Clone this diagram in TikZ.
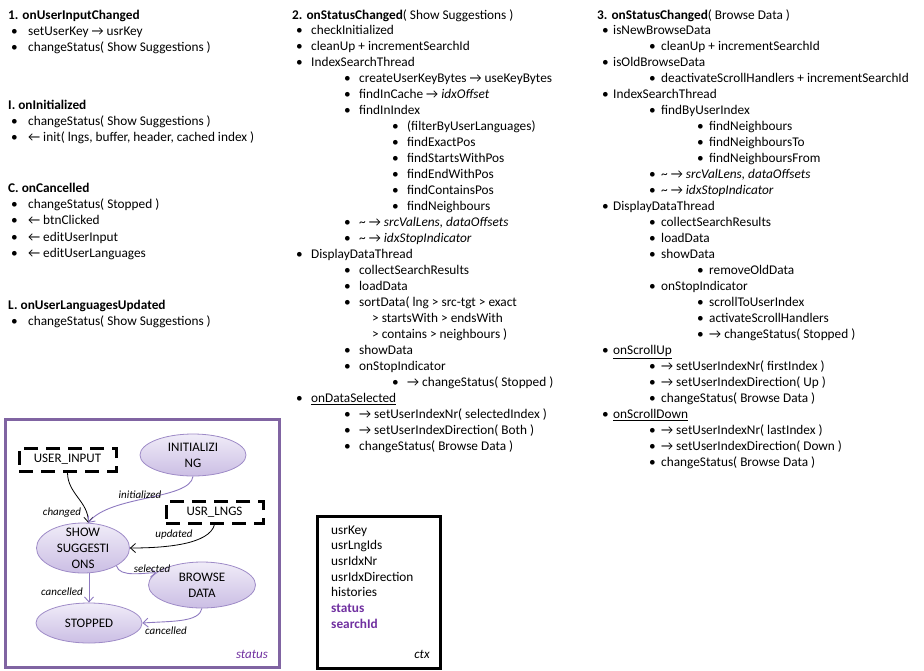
\documentclass[tikz,border=0pt]{standalone}
\usepackage{fontspec}
\setmainfont{Carlito}
\usetikzlibrary{shapes.geometric,arrows.meta}
\definecolor{stb}{HTML}{9E8BC7}
\definecolor{stt}{HTML}{F0ECF8}
\definecolor{stbot}{HTML}{CBBEE4}
\definecolor{parc}{HTML}{8E7AC0}
\definecolor{boxc}{HTML}{8064A2}
\definecolor{purp}{HTML}{7030A0}
\newcommand\B[5]{\node[txt] (#1b) at (#2,#4+4.5) {•};\node[txt] (#1) at (#3,#4+4.5) {#5};}
\newcommand\Hd[4]{\node[txt] (#1) at (#2,#3+4.5) {#4};}
\begin{document}
\begin{tikzpicture}[x=1pt,y=-1pt,
  txt/.style={anchor=base west,inner sep=0pt,font=\fontsize{13.3}{16}\selectfont},
  st/.style={ellipse,draw=stb,line width=0.8pt,top color=stt,bottom color=stbot,inner sep=0pt},
  sttxt/.style={align=center,inner sep=0pt,font=\fontsize{13}{16}\selectfont},
  dbox/.style={draw,line width=3pt,dash pattern=on 14pt off 8pt,inner sep=0pt,font=\fontsize{13}{16}\selectfont},
  elab/.style={inner sep=0pt,font=\fontsize{11}{13}\selectfont\itshape},
  karr/.style={-{Straight Barb[length=5pt,width=9pt]},line width=0.8pt,black},
  parr/.style={-{Straight Barb[length=5pt,width=9pt]},line width=0.9pt,parc}]
\useasboundingbox (0,0) rectangle (924,670);
% column 1
\Hd{h1}{8}{15}{\textbf{1. onUserInputChanged}}
\B{a1}{11}{28}{31}{setUserKey → usrKey}
\B{a2}{11}{28}{47}{changeStatus( Show Suggestions )}
\Hd{h2}{8}{105}{\textbf{I. onInitialized}}
\B{a3}{11}{28}{121}{changeStatus( Show Suggestions )}
\B{a4}{11}{28}{137}{← init( lngs, buffer, header, cached index )}
\Hd{h3}{8}{188}{\textbf{C. onCancelled}}
\B{a5}{11}{28}{204}{changeStatus( Stopped )}
\B{a6}{11}{28}{220}{← btnClicked}
\B{a7}{11}{28}{237}{← editUserInput}
\B{a8}{11}{28}{253}{← editUserLanguages}
\Hd{h4}{8}{305}{\textbf{L. onUserLanguagesUpdated}}
\B{a9}{11}{28}{321}{changeStatus( Show Suggestions )}
% column 2
\Hd{h5}{292}{15}{\textbf{2. onStatusChanged}( Show Suggestions )}
\B{b1}{296}{311}{30}{checkInitialized}
\B{b2}{296}{311}{46}{cleanUp + incrementSearchId}
\B{b3}{296}{311}{62}{IndexSearchThread}
\B{b4}{344}{359}{78}{createUserKeyBytes → useKeyBytes}
\B{b5}{344}{359}{94}{findInCache → \textit{idxOffset}}
\B{b6}{344}{359}{110}{findInIndex}
\B{b7}{392}{407}{126}{(filterByUserLanguages)}
\B{b8}{392}{407}{142}{findExactPos}
\B{b9}{392}{407}{158}{findStartsWithPos}
\B{b10}{392}{407}{174}{findEndWithPos}
\B{b11}{392}{407}{190}{findContainsPos}
\B{b12}{392}{407}{206}{findNeighbours}
\B{b13}{344}{359}{222}{\textasciitilde\ → \textit{srcValLens, dataOffsets}}
\B{b14}{344}{359}{238}{\textasciitilde\ → \textit{idxStopIndicator}}
\B{b15}{296}{311}{254}{DisplayDataThread}
\B{b16}{344}{359}{270}{collectSearchResults}
\B{b17}{344}{359}{286}{loadData}
\B{b18}{344}{359}{302}{sortData( lng > src-tgt > exact}
\Hd{b19}{372}{318}{> startsWith > endsWith}
\Hd{b20}{372}{334}{> contains > neighbours )}
\B{b21}{344}{359}{350}{showData}
\B{b22}{344}{359}{366}{onStopIndicator}
\B{b23}{392}{407}{382}{→ changeStatus( Stopped )}
\B{b24}{296}{311}{398}{\underline{onDataSelected}}
\B{b25}{344}{359}{414}{→ setUserIndexNr( selectedIndex )}
\B{b26}{344}{359}{430}{→ setUserIndexDirection( Both )}
\B{b27}{344}{359}{446}{changeStatus( Browse Data )}
% column 3
\Hd{h6}{597}{15}{\textbf{3. onStatusChanged}( Browse Data )}
\B{c1}{602}{613}{30}{isNewBrowseData}
\B{c2}{649}{661}{46}{cleanUp + incrementSearchId}
\B{c3}{602}{613}{62}{isOldBrowseData}
\B{c4}{649}{661}{78}{deactivateScrollHandlers + incrementSearchId}
\B{c5}{602}{613}{94}{IndexSearchThread}
\B{c6}{649}{661}{110}{findByUserIndex}
\B{c7}{697}{709}{126}{findNeighbours}
\B{c8}{697}{709}{142}{findNeighboursTo}
\B{c9}{697}{709}{158}{findNeighboursFrom}
\B{c10}{649}{661}{174}{\textasciitilde\ → \textit{srcValLens, dataOffsets}}
\B{c11}{649}{661}{190}{\textasciitilde\ → \textit{idxStopIndicator}}
\B{c12}{602}{613}{206}{DisplayDataThread}
\B{c13}{649}{661}{222}{collectSearchResults}
\B{c14}{649}{661}{238}{loadData}
\B{c15}{649}{661}{254}{showData}
\B{c16}{697}{709}{270}{removeOldData}
\B{c17}{649}{661}{286}{onStopIndicator}
\B{c18}{697}{709}{302}{scrollToUserIndex}
\B{c19}{697}{709}{318}{activateScrollHandlers}
\B{c20}{697}{709}{334}{→ changeStatus( Stopped )}
\B{c21}{602}{613}{350}{\underline{onScrollUp}}
\B{c22}{649}{661}{366}{→ setUserIndexNr( firstIndex )}
\B{c23}{649}{661}{382}{→ setUserIndexDirection( Up )}
\B{c24}{649}{661}{398}{changeStatus( Browse Data )}
\B{c25}{602}{613}{414}{\underline{onScrollDown}}
\B{c26}{649}{661}{430}{→ setUserIndexNr( lastIndex )}
\B{c27}{649}{661}{446}{→ setUserIndexDirection( Down )}
\B{c28}{649}{661}{462}{changeStatus( Browse Data )}
% status diagram
\node[draw=boxc,line width=3pt,minimum width=274pt,minimum height=248pt,anchor=north west,inner sep=0pt] (statusbox) at (4,418) {};
\node[dbox,minimum width=97pt,minimum height=23pt] (ui) at (67.5,459.5) {USER\_INPUT};
\node[dbox,minimum width=97pt,minimum height=22pt] (lngs) at (214.5,512) {USR\_LNGS};
\node[st,minimum width=106pt,minimum height=42pt,label={[sttxt]center:{INITIALIZI\\NG}}] (init) at (193,455) {};
\node[st,minimum width=93pt,minimum height=50pt,label={[sttxt]center:{SHOW\\SUGGESTI\\ONS}}] (show) at (83,548) {};
\node[st,minimum width=107pt,minimum height=46pt,label={[sttxt]center:{BROWSE\\DATA}}] (browse) at (202,585) {};
\node[st,minimum width=106pt,minimum height=40pt,label={[sttxt]center:{STOPPED}}] (stopped) at (89,623) {};
\draw[karr] (ui.south) to[out=-90,in=90] (show.78);
\draw[parr] (init.south) .. controls (190,500) and (110,495) .. (show.78);
\draw[karr] (lngs.south) .. controls +(-5,20) and +(35,0) .. (show.east);
\draw[parr] (show.-28) .. controls +(3,12) and +(-12,0) .. (browse.165);
\draw[parr] (stopped.north |- show.south) -- (stopped.north);
\draw[parr] (browse.south) .. controls +(-3,14) and +(30,-2) .. (stopped.east);
\node[elab] (lchanged) at (62,513) {changed};
\node[elab] (linit) at (140,495) {initialized};
\node[elab] (lupd) at (174,535) {updated};
\node[elab] (lsel) at (152,569) {selected};
\node[elab] (lcan1) at (62,592) {cancelled};
\node[elab] (lcan2) at (166,631) {cancelled};
\node[inner sep=0pt,font=\fontsize{13}{16}\selectfont\itshape,text=purp] (lstatus) at (252,654) {status};
% ctx box
\node[draw,line width=2.5pt,minimum width=123pt,minimum height=152pt,anchor=north west,inner sep=0pt] (ctx) at (316,515) {};
\Hd{d1}{331}{530}{usrKey}
\Hd{d2}{331}{545}{usrLngIds}
\Hd{d3}{331}{561}{usrIdxNr}
\Hd{d4}{331}{577}{usrIdxDirection}
\Hd{d5}{331}{592}{histories}
\Hd{d6}{331}{608}{\textcolor{purp}{\textbf{status}}}
\Hd{d7}{331}{624}{\textcolor{purp}{\textbf{searchId}}}
\node[inner sep=0pt,font=\fontsize{13}{16}\selectfont\itshape] (lctx) at (422,654) {ctx};
\end{tikzpicture}
\end{document}
